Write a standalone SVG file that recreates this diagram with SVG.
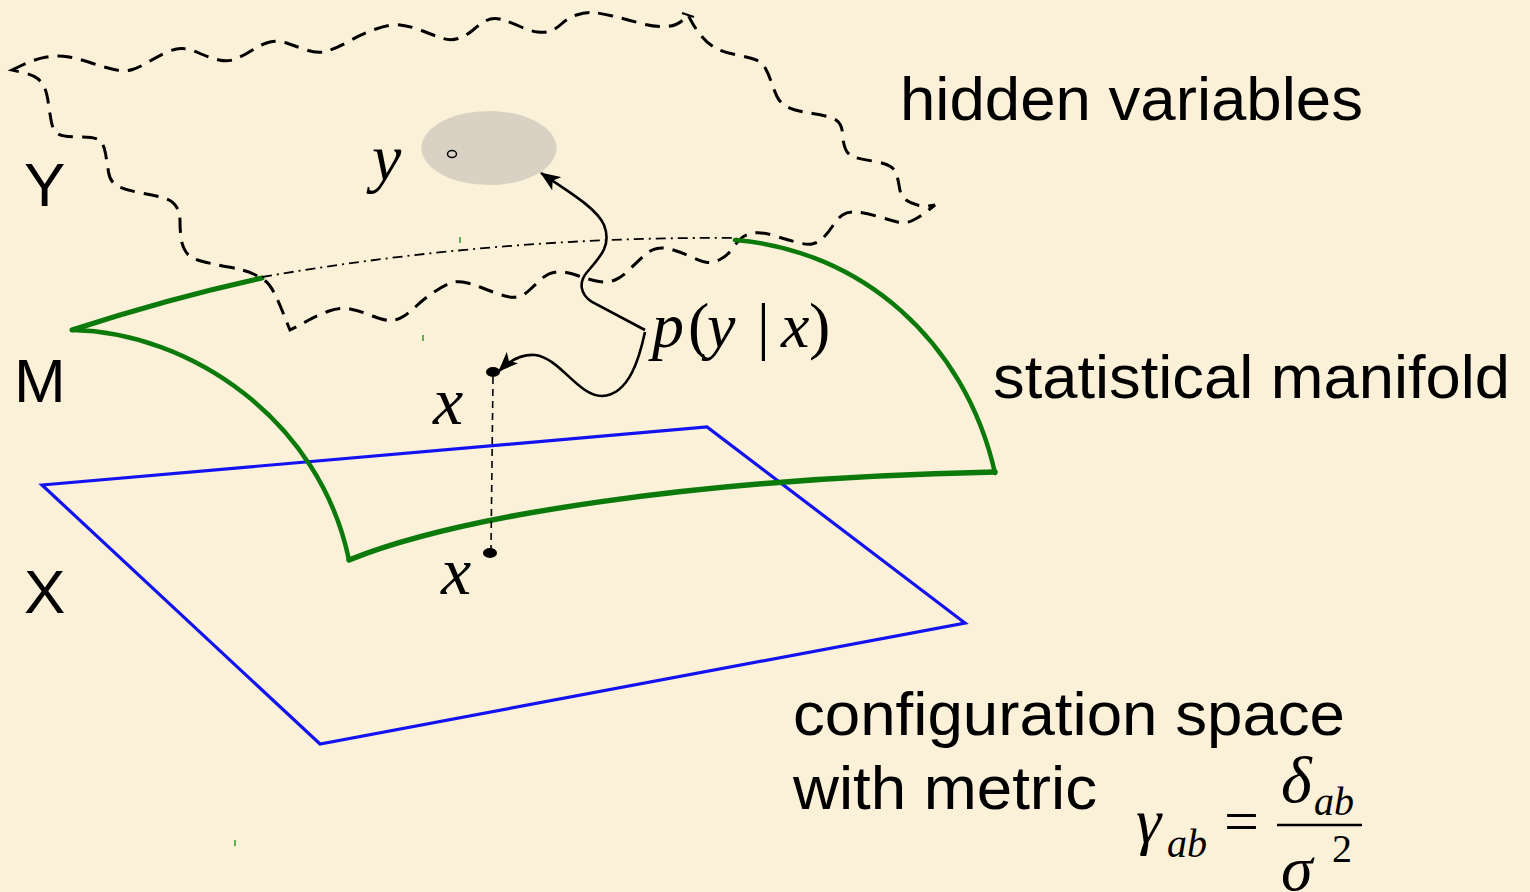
<svg xmlns="http://www.w3.org/2000/svg" width="1530" height="892" viewBox="0 0 1530 892">
<defs>
<style>
.lbl{font-family:"Liberation Sans",Arial,sans-serif;font-size:62px;fill:#000}
.m{font-family:"Liberation Serif","Times New Roman",serif;font-style:italic;fill:#000}
.mu{font-family:"Liberation Serif","Times New Roman",serif;font-style:normal;fill:#000}
.green{fill:none;stroke:#0b7a0b;stroke-linecap:round;stroke-linejoin:round}
.conn{fill:none;stroke:#000;stroke-width:2.6}
</style>
<marker id="ah" markerUnits="userSpaceOnUse" markerWidth="22" markerHeight="16" refX="19" refY="8" orient="auto">
<path d="M0,0 L20,8 L0,16 L5,8 Z" fill="#000"/>
</marker>
</defs>
<rect x="0" y="0" width="1530" height="892" fill="#fbf0d8"/>

<g id="hidden-region">
<path fill="none" stroke="#000" stroke-width="3" stroke-dasharray="15 9" d="M12,70 L23.5,64.5 Q35,59 46.5,57 Q58,55 69,57 Q80,59 91.5,63 Q103,67 114,69.5 Q125,72 132.5,69.5 Q140,67 147.5,62.5 Q155,58 165,53 Q175,48 182.5,48.5 Q190,49 200,53.5 Q210,58 219,60 Q228,62 235.5,59 Q243,56 252.5,50 Q262,44 270,42 Q278,40 286.5,43 Q295,46 306.5,50 Q318,54 327.5,51 Q337,48 349.5,41 Q362,34 376,29 Q390,24 400,25 Q410,26 421.5,30.5 Q433,35 441.5,38 Q450,41 458,38.5 Q466,36 473,30 Q480,24 486.5,20.5 Q493,17 501.5,19.5 Q510,22 520,26.5 Q530,31 537.5,32 Q545,33 550.5,31 Q556,29 562,23.5 Q568,18 576.5,15 Q585,12 592.5,12.5 Q600,13 612.5,16 Q625,19 637.5,22.5 Q650,26 660,26.5 Q670,27 676,24.5 Q682,22 688,15 L691.5,21.5 Q695,28 701,35.5 Q707,43 714.5,47.5 Q722,52 735,54.5 Q748,57 755,59.5 Q762,62 765.5,68.5 Q769,75 771.5,82.5 Q774,90 777,96.5 Q780,103 787.5,107 Q795,111 812.5,113.5 Q830,116 836,120 Q842,124 842.5,133.5 Q843,143 845.5,149 Q848,155 854,157 Q860,159 872.5,161 Q885,163 890.5,166.5 Q896,170 897.5,177.5 Q899,185 900,190.5 Q901,196 905.5,199.5 Q910,203 917.5,205 Q925,207 935,205 L927.5,211 Q920,217 912.5,220.5 Q905,224 897.5,222 Q890,220 876,216 Q862,212 854.5,212 Q847,212 842.5,215 Q838,218 833,225.5 Q828,233 823,238 Q818,243 812,244 Q806,245 795.5,242 Q785,239 773.5,235.5 Q762,232 754,233 Q746,234 741.5,238 Q737,242 732,249 Q727,256 720,259.5 Q713,263 707.5,262.5 Q702,262 692.5,257.5 Q683,253 673.5,250 Q664,247 657,248.5 Q650,250 643.5,256 Q637,262 629.5,269.5 Q622,277 615,280 Q608,283 599,281.5 Q590,280 577.5,275.5 Q565,271 556.5,272 Q548,273 541.5,279 Q535,285 529,290.5 Q523,296 516.5,297 Q510,298 500,294.5 Q490,291 480,287 Q470,283 462.5,282 Q455,281 449,283.5 Q443,286 434,292 Q425,298 417.5,305 Q410,312 404,316 Q398,320 391.5,320.5 Q385,321 372.5,316 Q360,311 350,309 Q340,307 329,311 Q318,315 309,320 Q300,325 290,330 L287.5,324 Q285,318 281.5,309 Q278,300 274,292.5 Q270,285 266,281.5 Q262,278 253.5,274 Q245,270 228.5,267 Q212,264 201,261 Q190,258 186,252 Q182,246 181,238 Q180,230 180,221.5 Q180,213 176.5,207 Q173,201 165.5,198.5 Q158,196 141.5,193 Q125,190 117.5,186 Q110,182 108.5,172 Q107,162 105.5,153.5 Q104,145 100.5,141 Q97,137 79.5,137 Q62,137 57.5,133.5 Q53,130 51.5,122.5 Q50,115 48.5,104 Q47,93 44.5,87.5 Q42,82 37.5,78.5 Q33,75 22.5,72.5 Z"/>
<path d="M682,13 L694,17" stroke="#000" stroke-width="2" fill="none"/>
</g>

<g id="config-space">
<path d="M42,485 L707,427 L965,623 L320,744 Z" fill="none" stroke="#1212f2" stroke-width="3.2" stroke-linejoin="miter"/>
</g>

<g id="manifold">
<path class="green" stroke-width="5" d="M72,330 Q170,298 262,278"/>
<path class="green" stroke-width="4.5" d="M72,330 C190,332 320,420 349,560"/>
<path class="green" stroke-width="5.5" d="M349,560 C460,515 700,478 995,472"/>
<path class="green" stroke-width="4.5" d="M735,240 C860,250 965,340 995,473"/>
<path d="M262,277 Q500,236 737,238" fill="none" stroke="#000" stroke-width="1.8" stroke-dasharray="10 5 2 5"/>
</g>

<g id="y-region">
<ellipse cx="489" cy="148" rx="67.5" ry="37" fill="#d9d2c4"/>
<ellipse cx="452" cy="154" rx="4.5" ry="3.5" fill="none" stroke="#000" stroke-width="1.5"/>
<text class="m" x="372" y="180" font-size="66">y</text>
</g>

<g id="x-points">
<ellipse cx="493" cy="372" rx="7" ry="5" fill="#000"/>
<ellipse cx="490" cy="553" rx="7" ry="5" fill="#000"/>
<path d="M493,377 L491,549" fill="none" stroke="#000" stroke-width="1.6" stroke-dasharray="7 5"/>
<text class="m" x="433" y="424" font-size="68">x</text>
<text class="m" x="441" y="594" font-size="68">x</text>
</g>

<g id="connectors">
<path class="conn" marker-end="url(#ah)" d="M645,330 L592,302 C580,294 578,282 588,271 C600,257 612,245 604,225 C597,208 566,190 541,173"/>
<path class="conn" marker-end="url(#ah)" d="M645,332 C640,355 630,395 602,396 C578,396 560,358 535,355 C520,354 508,362 499,371"/>
</g>

<g id="p-label">
<text font-size="64" y="347"><tspan class="m" x="652">p</tspan><tspan class="mu" x="688">(</tspan><tspan class="m" x="707">y</tspan><tspan class="mu" x="757">|</tspan><tspan class="m" x="781">x</tspan><tspan class="mu" x="809">)</tspan></text>
</g>

<g id="labels">
<text class="lbl" x="900" y="120" textLength="463" lengthAdjust="spacingAndGlyphs">hidden variables</text>
<text class="lbl" x="24" y="206">Y</text>
<text class="lbl" x="14" y="402">M</text>
<text class="lbl" x="24" y="613">X</text>
<text class="lbl" x="993" y="398" textLength="517" lengthAdjust="spacingAndGlyphs">statistical manifold</text>
<text class="lbl" x="793" y="735" textLength="552" lengthAdjust="spacingAndGlyphs">configuration space</text>
<text class="lbl" x="793" y="809" textLength="304" lengthAdjust="spacingAndGlyphs">with metric</text>
</g>

<g id="formula">
<text class="m" x="1136" y="842" font-size="64">γ</text>
<text class="m" x="1167" y="857" font-size="40">ab</text>
<text class="mu" x="1224" y="842" font-size="62">=</text>
<line x1="1277" y1="825" x2="1362" y2="825" stroke="#000" stroke-width="2.5"/>
<text class="m" x="1281" y="802" font-size="66">δ</text>
<text class="m" x="1314" y="815" font-size="40">ab</text>
<text class="m" x="1281" y="890" font-size="64">σ</text>
<text class="mu" x="1332" y="862" font-size="40">2</text>
</g>

<g id="artifacts" stroke="#2a9a2a" stroke-width="1.5">
<line x1="460" y1="237" x2="460" y2="243"/>
<line x1="423" y1="335" x2="423" y2="341"/>
<line x1="235" y1="840" x2="235" y2="846"/>
</g>
</svg>
